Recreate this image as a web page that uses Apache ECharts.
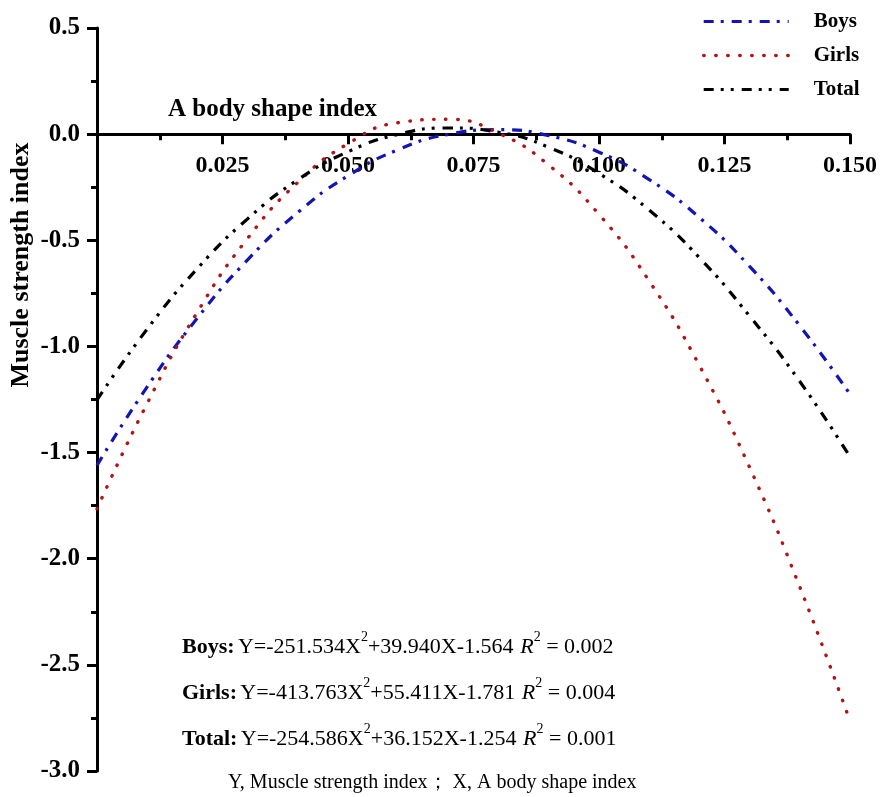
<!DOCTYPE html>
<html>
<head>
<meta charset="utf-8">
<script src="https://cdn.jsdelivr.net/npm/echarts@6/dist/echarts.min.js"></script>
<style>
html,body{margin:0;padding:0;background:#fff;}
#chart{width:883px;height:797px;}
</style>
</head>
<body>
<div id="chart"></div>
<script>
// ---- data ----
const xValues = [0, 0.01, 0.02, 0.03, 0.04, 0.05, 0.06, 0.07, 0.08, 0.09, 0.10, 0.11, 0.12, 0.13, 0.14, 0.15];
const boysValues  = [-1.560, -1.190, -0.866, -0.592, -0.369, -0.196, -0.073, -0.001, 0.021, -0.007, -0.085, -0.214, -0.393, -0.623, -0.903, -1.225];
const girlsValues = [-1.765, -1.268, -0.838, -0.491, -0.227, -0.045, 0.054, 0.070, 0.004, -0.146, -0.378, -0.692, -1.090, -1.570, -2.133, -2.765];
const totalValues = [-1.252, -0.918, -0.633, -0.399, -0.215, -0.083, -0.001, 0.029, 0.009, -0.062, -0.185, -0.358, -0.582, -0.857, -1.165, -1.520];
const seriesNames = ['Boys', 'Girls', 'Total'];
const xTicks = [0.025, 0.050, 0.075, 0.100, 0.125, 0.150];
const yTicks = [0.5, 0.0, -0.5, -1.0, -1.5, -2.0, -2.5, -3.0];
const equations = [
  {label: 'Boys:',  eq: 'Y=-251.534X', a: '+39.940X-1.564', r2: '0.002'},
  {label: 'Girls:', eq: 'Y=-413.763X', a: '+55.411X-1.781', r2: '0.004'},
  {label: 'Total:', eq: 'Y=-254.586X', a: '+36.152X-1.254', r2: '0.001'}
];
const footnote = 'Y, Muscle strength index； X, A body shape index';
const xName = 'A body shape index';
const yName = 'Muscle strength index';

const serif = '"Liberation Serif", "Times New Roman", serif';
const pairs = vals => xValues.map((x, i) => [x, vals[i]]);

// styles
const colors = ['#1414b4', '#b01414', '#000000'];
const dashes = [[10, 7, 3, 8], [0.5, 11.5], [10, 7, 3, 7, 3, 8]];
const widths = [3.2, 3.4, 3.2];

// layout
const W = 883, H = 797;
const gridTop = 28, gridBottom = 26;
const yMin = -3, yMax = 0.5;
const plotH = H - gridTop - gridBottom;
// x axis crosses the y axis at value 0: move it up from the grid bottom
const xAxisOffset = -plotH * (0 - yMin) / (yMax - yMin);

const chart = echarts.init(document.getElementById('chart'), null, {renderer: 'canvas'});

const eqGraphics = equations.map((e, i) => ({
  type: 'text',
  left: 182,
  top: 630 + i * 46,
  style: {
    text: '{b|' + e.label + '} {n|' + e.eq + '}{s|2}{n|' + e.a + '}  {i|R}{s|2}{n| = ' + e.r2 + '}',
    fill: '#000',
    rich: {
      b: {fontFamily: serif, fontWeight: 'bold', fontSize: 22, lineHeight: 28, verticalAlign: 'bottom'},
      n: {fontFamily: serif, fontSize: 22, lineHeight: 28, verticalAlign: 'bottom'},
      i: {fontFamily: serif, fontStyle: 'italic', fontSize: 22, lineHeight: 28, verticalAlign: 'bottom'},
      s: {fontFamily: serif, fontSize: 14, lineHeight: 28, verticalAlign: 'top'}
    }
  }
}));

const option = {
  backgroundColor: '#fff',
  animation: false,
  grid: {left: 97, right: 33, top: gridTop, bottom: gridBottom, containLabel: false, outerBoundsMode: 'none'},
  legend: {
    data: seriesNames.map((n, i) => ({
      name: n,
      itemStyle: {opacity: 0},
      lineStyle: {color: colors[i], width: widths[i], type: dashes[i], cap: i === 1 ? 'round' : 'butt'}
    })),
    orient: 'vertical',
    left: 697,
    top: 6,
    itemWidth: 85,
    itemHeight: 14,
    itemGap: 13,
    itemStyle: {opacity: 0},
    textStyle: {fontFamily: serif, fontWeight: 'bold', fontSize: 21, color: '#000', padding: [0, 0, 0, 20]}
  },
  xAxis: {
    type: 'value',
    min: 0,
    max: 0.15,
    interval: 0.025,
    position: 'bottom',
    offset: xAxisOffset,
    axisLine: {onZero: false, lineStyle: {color: '#000', width: 3}},
    axisTick: {show: true, length: 10, lineStyle: {color: '#000', width: 3}},
    minorTick: {show: true, splitNumber: 2, length: 6, lineStyle: {color: '#000', width: 3}},
    splitLine: {show: false},
    axisLabel: {
      margin: 20,
      fontFamily: serif, fontWeight: 'bold', fontSize: 24, color: '#000',
      formatter: v => {
        const t = xTicks.find(k => Math.abs(k - v) < 1e-9);
        return t === undefined ? '' : t.toFixed(3);
      }
    }
  },
  yAxis: {
    type: 'value',
    min: yMin,
    max: yMax,
    interval: 0.5,
    axisLine: {show: true, onZero: false, lineStyle: {color: '#000', width: 3}},
    axisTick: {show: true, length: 10, lineStyle: {color: '#000', width: 3}},
    minorTick: {show: true, splitNumber: 2, length: 6, lineStyle: {color: '#000', width: 3}},
    splitLine: {show: false},
    axisLabel: {
      margin: 17,
      fontFamily: serif, fontWeight: 'bold', fontSize: 25, color: '#000',
      formatter: v => {
        const t = yTicks.find(k => Math.abs(k - v) < 1e-9);
        return t === undefined ? '' : t.toFixed(1);
      }
    }
  },
  series: [boysValues, girlsValues, totalValues].map((vals, i) => ({
    name: seriesNames[i], type: 'line', data: pairs(vals), smooth: true,
    showSymbol: false, symbol: 'none', z: 3,
    itemStyle: {color: colors[i]},
    lineStyle: {color: colors[i], width: widths[i], type: dashes[i], cap: i === 1 ? 'round' : 'butt'}
  })),
  graphic: [
    {
      type: 'text', left: 168, top: 97,
      style: {text: xName, font: 'bold 25px ' + serif, fill: '#000'}
    },
    {
      type: 'text', x: 21, y: 265, rotation: Math.PI / 2,
      style: {text: yName, font: 'bold 26px ' + serif, fill: '#000', align: 'center', verticalAlign: 'middle'}
    },
    ...eqGraphics,
    {
      type: 'text', left: 228, top: 773,
      style: {text: footnote, font: '20px ' + serif, fill: '#000'}
    }
  ]
};
chart.setOption(option);
</script>
</body>
</html>
